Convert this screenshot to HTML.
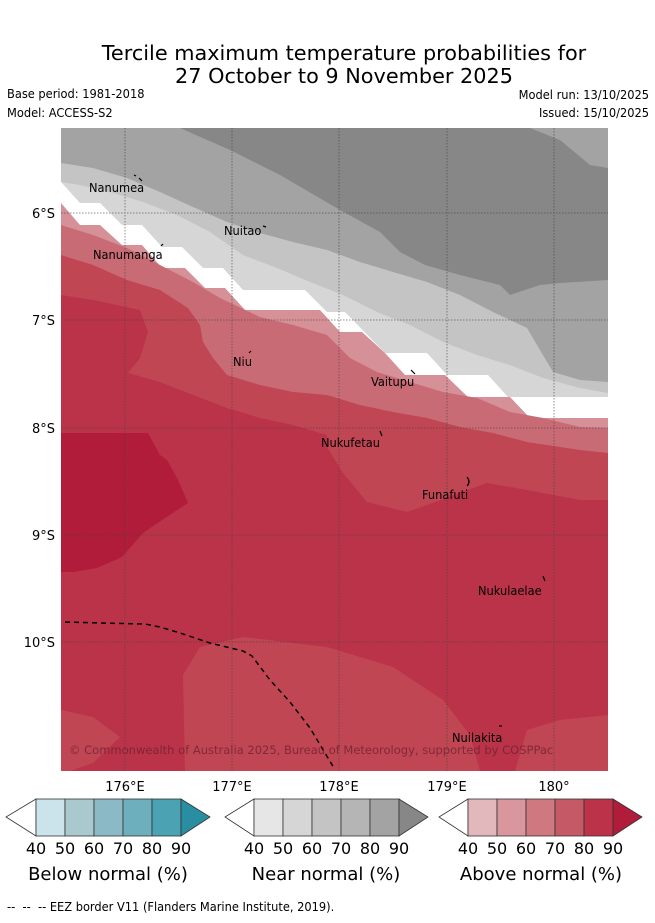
<!DOCTYPE html>
<html><head><meta charset="utf-8"><style>
html,body{margin:0;padding:0;background:#fff;}
body{width:655px;height:919px;overflow:hidden;position:relative;font-family:"DejaVu Sans","Liberation Sans",sans-serif;}
svg text{font-family:"DejaVu Sans","Liberation Sans",sans-serif;}
.sm{font-size:12.7px;font-stretch:condensed;}
</style></head><body>
<svg width="655" height="919" viewBox="0 0 655 919">
<text x="344" y="60" text-anchor="middle" font-size="20.8">Tercile maximum temperature probabilities for</text>
<text x="344" y="83" text-anchor="middle" font-size="20.8">27 October to 9 November 2025</text>
<text x="7" y="98" class="sm">Base period: 1981-2018</text>
<text x="7" y="117" class="sm">Model: ACCESS-S2</text>
<text x="649" y="99" class="sm" text-anchor="end">Model run: 13/10/2025</text>
<text x="649" y="117" class="sm" text-anchor="end">Issued: 15/10/2025</text>

<defs><clipPath id="mc"><rect x="61" y="128" width="547" height="643"/></clipPath></defs>
<g clip-path="url(#mc)">
<rect x="61" y="128" width="547" height="643" fill="#a3a3a3"/>
<polygon fill="#878787" points="180,128 530,128 560,140 590,165 608,168 608,280 560,283 540,285 510,295 500,285 460,275 425,265 400,252 380,232 340,210 280,175 230,150"/>
<polygon fill="#c4c4c4" points="61,163 93,168 127,178 160,192 193,207 227,222 260,233 293,242 327,250 360,262 393,272 427,282 460,295 493,312 527,328 553,372 580,380 608,382 608,771 61,771"/>
<polygon fill="#d6d6d6" points="61,182 80,185 110,192 143,202 177,215 210,232 243,255 277,268 310,282 343,295 377,312 410,325 443,342 477,355 510,365 543,378 580,388 608,393 608,771 61,771"/>
<polygon fill="#ffffff" points="61,182 80,203 100,203 122,225 142,225 162,247 182,247 203,268 223,268 243,290 305,290 327,312 345,312 385,353 427,353 447,375 488,375 508,397 608,397 608,771 61,771"/>
<polygon fill="#d69097" points="61,203 80,225 100,225 122,245 142,245 162,268 185,268 205,288 225,288 245,310 320,310 340,332 362,332 385,353 405,375 445,375 468,397 510,397 530,418 608,418 608,771 61,771"/>
<polygon fill="#c96b74" points="61,225 93,235 127,248 160,265 193,282 220,298 260,317 293,325 327,335 350,358 377,372 410,382 443,392 477,398 510,412 543,418 580,427 608,428 608,771 61,771"/>
<polygon fill="#c04653" points="61,255 93,265 127,280 160,290 188,308 200,325 203,342 213,358 227,375 260,385 293,392 327,395 360,405 393,412 427,418 460,427 493,433 527,442 580,450 608,453 608,771 61,771"/>
<polygon fill="#bb3349" points="61,295 93,300 140,310 148,332 140,358 128,373 160,382 193,395 227,408 260,418 293,425 327,435 327,447 343,473 367,502 407,512 427,505 487,483 527,490 580,500 608,500 608,771 61,771"/>
<polygon fill="#b01c3a" points="61,433 100,433 148,433 160,455 167,460 178,480 188,503 165,518 143,533 122,557 97,568 73,572 61,572"/>
<polygon fill="#c04653" points="185,771 183,675 200,647 243,637 327,647 393,667 443,700 470,735 480,771"/>
<polygon fill="#c04653" points="515,771 527,730 560,720 608,715 608,771"/>
<polygon fill="#c04653" points="61,710 93,717 120,737 93,763 70,771 61,771"/>
<g stroke="#444" stroke-width="1" stroke-dasharray="1.5,1.5" opacity="0.6">
<line x1="125" y1="128" x2="125" y2="771"/><line x1="232" y1="128" x2="232" y2="771"/><line x1="339" y1="128" x2="339" y2="771"/><line x1="447" y1="128" x2="447" y2="771"/><line x1="554" y1="128" x2="554" y2="771"/>
<line x1="61" y1="213" x2="608" y2="213"/><line x1="61" y1="320" x2="608" y2="320"/><line x1="61" y1="428" x2="608" y2="428"/><line x1="61" y1="535" x2="608" y2="535"/><line x1="61" y1="642" x2="608" y2="642"/>
</g>
<polyline fill="none" stroke="#000" stroke-width="1.5" stroke-dasharray="5,4" points="65,622 100,623 145,624 160,627 180,633 210,643 243,651 252,656 270,680 290,702 310,728 334,768"/>
<g font-size="12.7" fill="#000" font-stretch="condensed">
<text x="89" y="192">Nanumea</text><text x="224" y="235">Nuitao</text><text x="93" y="259">Nanumanga</text>
<text x="233" y="366">Niu</text><text x="371" y="386">Vaitupu</text><text x="321" y="447">Nukufetau</text>
<text x="422" y="499">Funafuti</text><text x="478" y="595">Nukulaelae</text><text x="452" y="742">Nuilakita</text>
</g>
<g stroke="#000" stroke-width="1.2">
<line x1="134" y1="175" x2="136" y2="176"/><line x1="139" y1="178" x2="142" y2="181"/><line x1="263" y1="226" x2="266" y2="227"/><line x1="161" y1="246" x2="163" y2="244"/>
<line x1="249" y1="353" x2="251" y2="351"/><line x1="411" y1="370" x2="415" y2="374"/><line x1="380" y1="431" x2="382" y2="436"/>
<path d="M467 477 Q471 482 467 486" fill="none"/><line x1="543" y1="576" x2="545" y2="581"/><line x1="499" y1="726" x2="502" y2="726"/>
</g>
<text x="69" y="754" font-size="11.5" fill="#6a2030" opacity="0.75">© Commonwealth of Australia 2025, Bureau of Meteorology, supported by COSPPac</text>
</g>
<g font-size="13" fill="#000" text-anchor="end">
<text x="55" y="218">6°S</text><text x="55" y="325">7°S</text><text x="55" y="433">8°S</text><text x="55" y="540">9°S</text><text x="55" y="647">10°S</text>
</g>
<g font-size="13" fill="#000" text-anchor="middle">
<text x="125" y="791">176°E</text><text x="232" y="791">177°E</text><text x="339" y="791">178°E</text><text x="447" y="791">179°E</text><text x="554" y="791">180°</text>
</g>

<g stroke="#333" stroke-width="0.8">
<polygon points="36,799 6,817 36,836" fill="#fff"/>
<rect x="36" y="799" width="29" height="37" fill="#cbe3ea"/><rect x="65" y="799" width="29" height="37" fill="#a9c9ce"/><rect x="94" y="799" width="29" height="37" fill="#8cb9c6"/><rect x="123" y="799" width="29" height="37" fill="#6dafbd"/><rect x="152" y="799" width="29" height="37" fill="#4aa2b3"/>
<polygon points="181,799 210,817 181,836" fill="#2a8ea2"/>
</g>
<g stroke="#333" stroke-width="0.8">
<polygon points="254,799 225,817 254,836" fill="#fff"/>
<rect x="254" y="799" width="29" height="37" fill="#e6e6e6"/><rect x="283" y="799" width="29" height="37" fill="#d6d6d6"/><rect x="312" y="799" width="29" height="37" fill="#c4c4c4"/><rect x="341" y="799" width="29" height="37" fill="#b5b5b5"/><rect x="370" y="799" width="29" height="37" fill="#a3a3a3"/>
<polygon points="399,799 428,817 399,836" fill="#878787"/>
</g>
<g stroke="#333" stroke-width="0.8">
<polygon points="468,799 439,817 468,836" fill="#fff"/>
<rect x="468" y="799" width="29" height="37" fill="#e2b8bd"/><rect x="497" y="799" width="29" height="37" fill="#d9969d"/><rect x="526" y="799" width="29" height="37" fill="#cf7880"/><rect x="555" y="799" width="29" height="37" fill="#c55a66"/><rect x="584" y="799" width="29" height="37" fill="#bc3349"/>
<polygon points="613,799 642,817 613,836" fill="#b01c3a"/>
</g>
<g font-size="16" text-anchor="middle">
<text x="36" y="854">40</text><text x="65" y="854">50</text><text x="94" y="854">60</text><text x="123" y="854">70</text><text x="152" y="854">80</text><text x="181" y="854">90</text>
<text x="254" y="854">40</text><text x="283" y="854">50</text><text x="312" y="854">60</text><text x="341" y="854">70</text><text x="370" y="854">80</text><text x="399" y="854">90</text>
<text x="468" y="854">40</text><text x="497" y="854">50</text><text x="526" y="854">60</text><text x="555" y="854">70</text><text x="584" y="854">80</text><text x="613" y="854">90</text>
</g>
<g font-size="18" text-anchor="middle">
<text x="108" y="880">Below normal (%)</text><text x="326" y="880">Near normal (%)</text><text x="541" y="880">Above normal (%)</text>
</g>
<text x="7" y="911" class="sm">-- &#160;-- &#160;-- EEZ border V11 (Flanders Marine Institute, 2019).</text>
</svg>
</body></html>
